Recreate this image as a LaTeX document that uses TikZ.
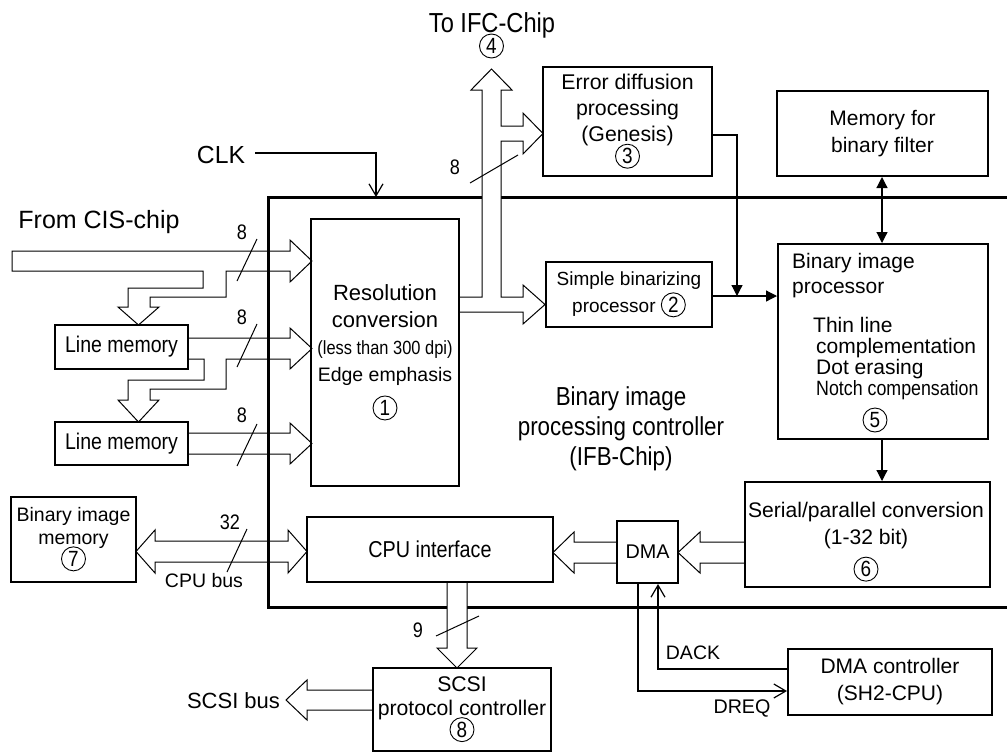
\documentclass[tikz,border=0pt]{standalone}
\usepackage{fontspec}
\setmainfont{Liberation Sans}
\newfontfamily\cond{Liberation Sans}[FakeStretch=0.86]
\usetikzlibrary{arrows.meta,calc}
\newcommand\fs[2]{\fontsize{#1}{#2}\selectfont}
\newcommand\cn[1]{\tikz[baseline=(cnx.base)]\node[circle,draw,line width=0.9pt,inner sep=0pt,minimum size=24pt,font=\cond\fs{22}{22}] (cnx) {#1};}
\begin{document}
\begin{tikzpicture}[x=1pt,y=-1pt,
  box/.style={draw,line width=2pt,inner sep=0pt,align=center},
  txt/.style={inner sep=0pt,align=center},
  fat/.style={line width=1pt,line join=miter},
  wire/.style={line width=1.2pt},
  fa/.style={-{Triangle[length=11pt,width=11pt]}},
  ba/.style={{Triangle[length=11pt,width=11pt]}-{Triangle[length=11pt,width=11pt]}},
  oa/.style={-{Straight Barb[length=12pt,width=14pt]}},
  chip/.style={line width=3pt},
  slash/.style={line width=1pt}]
\useasboundingbox (0,0) rectangle (1007,753);

% chip boundary (IFB-Chip)
\draw[chip] (1010,197) -- (268,197) -- (268,607) -- (1010,607);

% fat (hollow) arrows
\draw[fat] (12,251) -- (290,251) -- (290,240) -- (312,261) -- (290,282) -- (290,271) -- (226,271) -- (226,297) -- (150,297) -- (150,307) -- (159,307) -- (138.5,325) -- (118,307) -- (128,307) -- (128,288) -- (203,288) -- (203,271) -- (12,271) -- cycle;
\draw[fat] (188,338) -- (290,338) -- (290,328) -- (312,348.5) -- (290,369) -- (290,359) -- (226,359) -- (226,389) -- (150,389) -- (150,400) -- (159,400) -- (138.5,422) -- (118,400) -- (128,400) -- (128,380) -- (204,380) -- (204,359) -- (188,359);
\draw[fat] (188,433) -- (290,433) -- (290,423) -- (312,443.5) -- (290,464) -- (290,454) -- (188,454);
\draw[fat,fill=white] (459,297) -- (482,297) -- (482,90) -- (471,90) -- (491.5,69) -- (512,90) -- (501,90) -- (501,126) -- (523,126) -- (523,113) -- (543,133.5) -- (523,154) -- (523,141) -- (501,141) -- (501,297) -- (523,297) -- (523,285) -- (545,304.5) -- (523,324) -- (523,312) -- (459,312);
\draw[fat] (745,542) -- (700,542) -- (700,532) -- (678,552.5) -- (700,573) -- (700,563) -- (745,563);
\draw[fat] (617,542) -- (574,542) -- (574,532) -- (553,552.5) -- (574,573) -- (574,563) -- (617,563);
\draw[fat] (136,551.5) -- (155,530) -- (155,541) -- (288,541) -- (288,530) -- (307,551.5) -- (288,573) -- (288,562) -- (155,562) -- (155,573) -- cycle;
\draw[fat,fill=white] (447,582) -- (447,648) -- (437,648) -- (457,668) -- (477,648) -- (467,648) -- (467,582);
\draw[fat] (373,690) -- (307,690) -- (307,680) -- (286,700) -- (307,720) -- (307,710) -- (373,710);

% boxes
\node[box,minimum width=148pt,minimum height=267pt,font=\fs{22}{27}] (res) at (385,352.5)
  {Resolution\\conversion\\{\cond\fs{19.1}{27}(less than 300 dpi)}\\{\fs{19.5}{27}Edge emphasis}\\[7pt]\cn{1}};
\node[box,minimum width=133pt,minimum height=44pt,font=\cond\fs{22.7}{27}] (lm1) at (121.5,347) {Line memory};
\node[box,minimum width=133pt,minimum height=43pt,font=\cond\fs{22.7}{27}] (lm2) at (121.5,443.5) {Line memory};
\node[box,minimum width=166pt,minimum height=65pt,font=\fs{19}{27}] (sbp) at (629,294.5) {Simple binarizing\\processor \cn{2}};
\node[box,minimum width=169pt,minimum height=109pt,font=\fs{21.3}{26}] (edp) at (627.5,121.5) {Error diffusion\\processing\\(Genesis)\\[-4pt]\cn{3}};
\node[box,minimum width=211pt,minimum height=85pt,font=\fs{21}{27}] (mbf) at (882.5,133.5) {Memory for\\binary filter};
\node[box,minimum width=210pt,minimum height=195pt] (bip) at (883,341.5) {};
\node[txt,anchor=west,align=left,font=\fs{21}{25}] (bipt) at (792,275.5) {Binary image\\processor};
\node[txt,anchor=west,align=left,font=\fs{21}{21}] (bipf) at (813,358.5) {Thin line\\\hspace*{3pt}complementation\\\hspace*{3pt}Dot erasing\\\hspace*{3pt}{\cond\fs{20.7}{21}Notch compensation}};
\node[txt] (c5) at (875,420) {\cn{5}};
\node[box,minimum width=245pt,minimum height=105pt] (spc) at (867.5,534.5) {};
\node[txt,font=\fs{21.1}{27}] (spct) at (866,542) {Serial/parallel conversion\\(1-32 bit)\\[5pt]\cn{6}};
\node[box,minimum width=61pt,minimum height=62pt,font=\fs{19.8}{24}] (dma) at (647.5,552) {DMA};
\node[box,minimum width=246pt,minimum height=65pt,font=\cond\fs{23}{27}] (cpu) at (430,549.5) {CPU interface};
\node[box,minimum width=125pt,minimum height=85pt,font=\fs{19.5}{22.5}] (bim) at (73.5,539.5) {Binary image\\memory\\[-3pt]\cn{7}};
\node[box,minimum width=178pt,minimum height=83pt,font=\fs{21.2}{24}] (scsi) at (462,709.5) {SCSI\\protocol controller\\[-4pt]\cn{8}};
\node[box,minimum width=204pt,minimum height=66pt,font=\fs{21}{27}] (dmac) at (890,682) {DMA controller\\(SH2-CPU)};

% free labels
\node[txt,font=\cond\fs{27.5}{30}] (ifc) at (492,25) {To IFC-Chip};
\node[txt] (c4) at (491.5,46) {\cn{4}};
\node[txt,font=\fs{24.7}{30}] (clk) at (221,155) {CLK};
\node[txt,font=\fs{25}{30}] (cis) at (99,222) {From CIS-chip};
\node[txt,font=\fs{22}{30}] (scsibus) at (233.5,701) {SCSI bus};
\node[txt,font=\fs{19.5}{30}] (cpubus) at (204,581) {CPU bus};
\node[txt,font=\fs{19.5}{30}] (dack) at (693,653) {DACK};
\node[txt,font=\fs{19.7}{30}] (dreq) at (742,708) {DREQ};
\node[txt,font=\cond\fs{26}{30}] (ifb) at (621,429) {Binary image\\processing controller\\(IFB-Chip)};

% bus widths
\node[txt,font=\cond\fs{21}{21}] (w1) at (242,232) {8};
\node[txt,font=\cond\fs{21}{21}] (w2) at (242,317) {8};
\node[txt,font=\cond\fs{21}{21}] (w3) at (242,415) {8};
\node[txt,font=\cond\fs{21}{21}] (w4) at (455,167) {8};
\node[txt,font=\cond\fs{21}{21}] (w5) at (230,522) {32};
\node[txt,font=\cond\fs{21}{21}] (w6) at (418,630) {9};
\draw[slash] (237,281) -- (257,239);
\draw[slash] (237,367) -- (257,324);
\draw[slash] (237,466) -- (257,424);
\draw[slash] (470,183) -- (518,155);
\draw[slash] (227,572) -- (247,529);
\draw[slash] (436,636) -- (479,616);

% thin connectors
\coordinate (clkin) at (376,197);
\coordinate (jn) at (737,296);
\draw[wire,oa] (clk.east) ++(10,-2) -- (376,153) -- (clkin);
\draw[wire,fa] (edp.east |- 0,135) -| (jn);
\draw[wire,fa] (sbp.east |- jn) -- (bip.west |- jn);
\draw[wire,ba] (mbf.south -| 882,0) -- (bip.north -| 882,0);
\draw[wire,fa] (bip.south -| 882,0) -- (spc.north -| 882,0);
\draw[wire,oa] (dma.south -| 638,0) -- (638,691) -- (dmac.west |- 0,691);
\draw[wire,oa] (dmac.west |- 0,669) -- (658,669) -- (dma.south -| 658,0);
\end{tikzpicture}
\end{document}
